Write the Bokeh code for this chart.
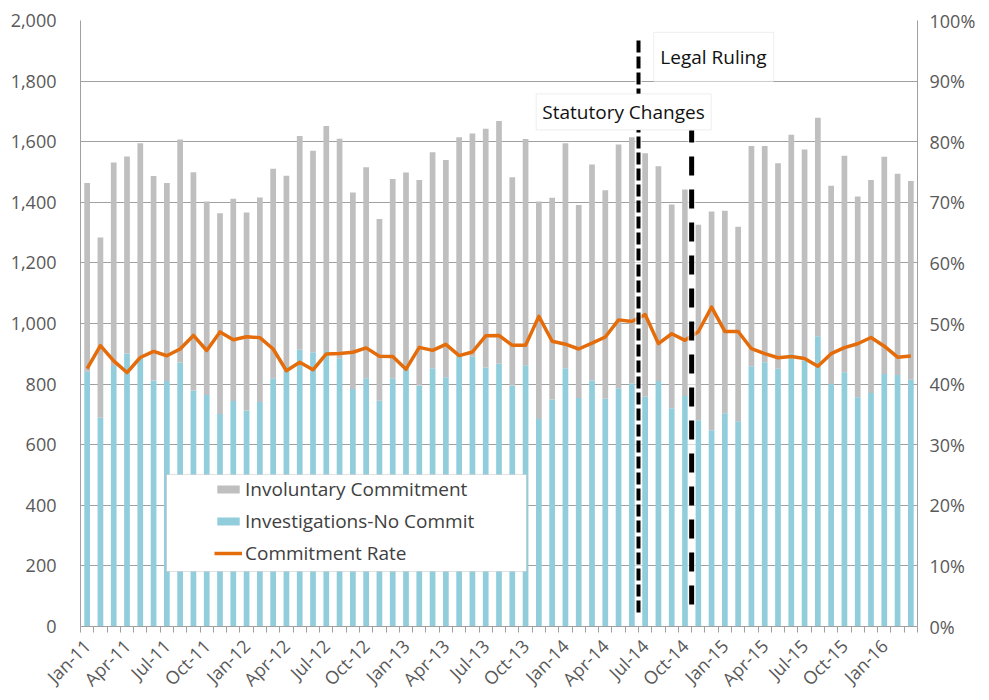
import math
import pandas as pd
from bokeh.plotting import figure
from bokeh.models import (Range1d, LinearAxis, FixedTicker, NumeralTickFormatter, Legend,
                          LegendItem, BoxAnnotation, Label, ColumnDataSource)
from bokeh.embed import file_html
from bokeh.resources import INLINE

# ---------------- data ----------------
months = list(pd.date_range("2011-01-01", periods=63, freq="MS").strftime("%b-%y"))

no_commit = [841, 689, 860, 901, 887, 812, 810, 871, 779, 764, 701, 744,
             713, 741, 819, 860, 913, 905, 909, 885, 784, 819, 745, 819,
             862, 795, 852, 823, 893, 890, 855, 867, 795, 862, 685, 749,
             852, 754, 812, 752, 786, 802, 758, 810, 720, 761, 681, 648,
             704, 677, 859, 872, 851, 900, 878, 958, 800, 839, 757, 771,
             833, 830, 814]

commit = [623, 595, 671, 650, 708, 675, 654, 736, 720, 639, 663, 668,
          653, 675, 692, 628, 706, 665, 743, 725, 648, 697, 600, 658,
          636, 679, 713, 717, 722, 737, 788, 801, 688, 747, 718, 666,
          743, 637, 713, 688, 805, 813, 804, 709, 673, 681, 645, 722,
          668, 642, 727, 714, 678, 723, 696, 721, 655, 715, 662, 703,
          717, 664, 656]

events = ["Jul-14", "Nov-14"]
event_labels = ["Statutory Changes", "Legal Ruling"]
left_ticks = list(range(0, 2001, 200))
right_ticks = [i / 10 for i in range(11)]

# ---------------- styles ----------------
GRAY = "#BFBFBF"
BLUE = "#92CDDC"
ORANGE = "#E46C0A"
AXIS = "#A0A0A0"
TXT = "#595959"
FONT = "Open Sans"

x_idx = list(range(len(months)))
rate = [c / (c + n) for c, n in zip(commit, no_commit)]
src = ColumnDataSource(dict(x=x_idx, no_commit=no_commit, commit=commit, rate=rate))

p = figure(frame_width=837, frame_height=606, width=973, height=684,
           min_border_left=80, min_border_right=56, min_border_top=20, min_border_bottom=58,
           x_range=Range1d(-0.5, len(months) - 0.5), y_range=Range1d(0, 2000),
           output_backend="svg", toolbar_location=None, outline_line_color=None)
p.extra_y_ranges = {"rate": Range1d(0, 1)}

bars = p.vbar_stack(["no_commit", "commit"], x="x", width=0.43, color=[BLUE, GRAY],
                    line_color=None, source=src)
line = p.line("x", "rate", source=src, y_range_name="rate", color=ORANGE, line_width=3.5,
              line_join="round")

# event dashed lines
ev_x = [months.index(e) - 0.5 for e in events]
p.segment(x0=[ev_x[0]], y0=[46], x1=[ev_x[0]], y1=[1934], color="white", line_width=7, alpha=0.6)
p.segment(x0=[ev_x[1]], y0=[73], x1=[ev_x[1]], y1=[1637], color="white", line_width=8, alpha=0.6)
p.segment(x0=[ev_x[0]], y0=[46], x1=[ev_x[0]], y1=[1934], color="black", line_width=4,
          line_dash="12 4")
p.segment(x0=[ev_x[1]], y0=[73], x1=[ev_x[1]], y1=[1637], color="black", line_width=5,
          line_dash="19 14")

# annotation boxes
box_specs = [(33.8, 46.97, 1758, 1639, 40.37, 1698), (42.65, 51.68, 1961, 1799, 47.14, 1879)]
for (l, r, t, b, tx, ty), txt in zip(box_specs, event_labels):
    p.add_layout(BoxAnnotation(left=l, right=r, top=t, bottom=b, fill_color="white", fill_alpha=1,
                               line_color="#C8C8C8", line_width=1))
    p.add_layout(Label(x=tx, y=ty, text=txt, text_align="center", text_baseline="middle",
                       text_font=FONT, text_font_size="19px", text_color="#111111"))

# legend frame
p.add_layout(BoxAnnotation(left=5.97, right=33.07, top=501.6, bottom=181.5, fill_color="white",
                           fill_alpha=1, line_color="#A0A0A0", line_width=1))

# axes
p.xgrid.visible = False
p.ygrid.grid_line_color = AXIS
p.ygrid.ticker = FixedTicker(ticks=left_ticks)

ya = p.yaxis[0]
ya.ticker = FixedTicker(ticks=left_ticks)
ya.formatter = NumeralTickFormatter(format="0,0")

ra = LinearAxis(y_range_name="rate", ticker=FixedTicker(ticks=right_ticks),
                formatter=NumeralTickFormatter(format="0%"))
p.add_layout(ra, "right")

for ax, so in ((ya, 18), (ra, 6)):
    ax.axis_line_color = AXIS
    ax.major_tick_line_color = None
    ax.minor_tick_line_color = None
    ax.major_label_standoff = so
    ax.major_label_text_font = FONT
    ax.major_label_text_font_size = "18px"
    ax.major_label_text_color = TXT

xa = p.xaxis[0]
xa.ticker = FixedTicker(ticks=list(range(0, len(months), 3)),
                        minor_ticks=[i - 0.5 for i in range(len(months) + 1)])
xa.major_label_overrides = {i: months[i] for i in range(0, len(months), 3)}
xa.major_label_orientation = math.pi / 4
xa.major_tick_line_color = None
xa.minor_tick_in = 0
xa.minor_tick_out = 6
xa.minor_tick_line_color = AXIS
xa.axis_line_color = AXIS
xa.major_label_text_font = FONT
xa.major_label_text_font_size = "18px"
xa.major_label_text_color = TXT
xa.major_label_standoff = 10

legend = Legend(items=[LegendItem(label="Involuntary Commitment", renderers=[bars[1]]),
                       LegendItem(label="Investigations-No Commit", renderers=[bars[0]]),
                       LegendItem(label="Commitment Rate", renderers=[line])],
                location=(134, 60), glyph_width=28, glyph_height=10, label_standoff=3,
                spacing=6, label_height=22, padding=0, margin=0, border_line_color=None,
                background_fill_alpha=0, label_text_font=FONT, label_text_font_size="19px",
                label_text_color="#404040")
p.add_layout(legend, "center")

open("out.html", "w").write(file_html(p, INLINE))
